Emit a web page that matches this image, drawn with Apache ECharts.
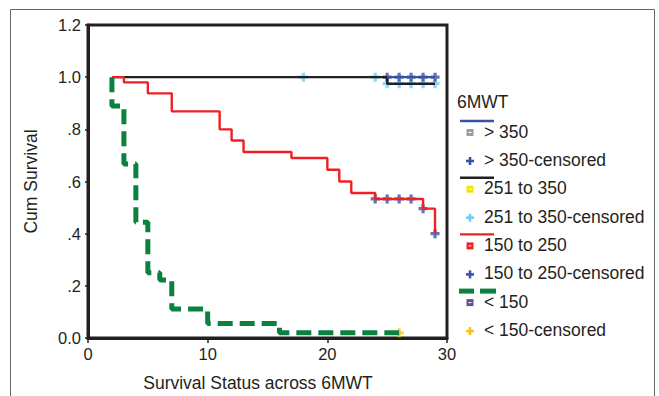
<!DOCTYPE html>
<html>
<head>
<meta charset="utf-8">
<title>Survival Status across 6MWT</title>
<script src="https://cdn.jsdelivr.net/npm/echarts@6/dist/echarts.min.js"></script>
<style>
  html, body { margin: 0; padding: 0; background: #fff; }
  #chart { width: 659px; height: 396px; }
</style>
</head>
<body>
<div id="chart"></div>
<script>
// axis ticks
const xTicks = [0, 10, 20, 30];
const yTicks = [0, 0.2, 0.4, 0.6, 0.8, 1.0, 1.2];

// > 350
const over350Time = [25, 29];
const over350Surv = [1.0, 1.0];
const over350CensTime = [25, 26, 27, 28, 29];
const over350CensSurv = [1.0, 1.0, 1.0, 1.0, 1.0];

// 251 to 350
const mid350Time = [2, 25, 29];
const mid350Surv = [1.0, 0.975, 0.975];
const mid350CensTime = [18, 24, 25, 26, 27, 28, 29];
const mid350CensSurv = [1.0, 1.0, 0.975, 0.975, 0.975, 0.975, 0.975];

// 150 to 250
const mid250Time = [2, 3, 5, 7, 11, 12, 13, 17, 20, 21, 22, 24, 28, 29];
const mid250Surv = [1.0, 0.98, 0.938, 0.869, 0.80, 0.757, 0.713, 0.69, 0.645, 0.60, 0.556, 0.533, 0.496, 0.40];
const mid250CensTime = [24, 25, 26, 27, 28, 29];
const mid250CensSurv = [0.533, 0.533, 0.533, 0.533, 0.496, 0.40];

// < 150
const under150Time = [2, 2, 3, 4, 5, 6, 7, 10, 16, 26];
const under150Surv = [1.0, 0.889, 0.667, 0.444, 0.25, 0.222, 0.111, 0.056, 0.02, 0.02];
const under150CensTime = [26];
const under150CensSurv = [0.02];

// legend texts
const legendTitle = "6MWT";
const legendLabels = ["> 350", "> 350-censored", "251 to 350", "251 to 350-censored",
  "150 to 250", "150 to 250-censored", "< 150", "< 150-censored"];

const FONT = "'Liberation Sans', Arial, sans-serif";
const INK = "#231f20";
const PLUS = "path://M3.2,0H6.8V3.2H10V6.8H6.8V10H3.2V6.8H0V3.2H3.2Z";

const pairs = (xs, ys) => xs.map((x, i) => [x, ys[i]]);

const stepLine = (name, xs, ys, color, width, type) => ({
  name: name,
  type: "line",
  step: "end",
  symbol: "none",
  data: pairs(xs, ys),
  lineStyle: { color: color, width: width, type: type || "solid", cap: "butt" },
  silent: true
});

const censored = (name, xs, ys, color) => ({
  name: name,
  type: "scatter",
  symbol: PLUS,
  symbolSize: 9,
  data: pairs(xs, ys),
  itemStyle: { color: color },
  silent: true
});

// legend drawn by hand: line swatch, event box, censored plus
const legendGraphic = () => {
  const items = [];
  const groups = [
    { line: "#3953a4", box: "#9d9d9d", plus: "#3953a4" },
    { line: INK, box: "#f0e600", plus: "#6dcff6" },
    { line: "#ed2024", box: "#ed2024", plus: "#3953a4" },
    { line: "#0b8140", box: "#6a4c9c", plus: "#f7c21c", dashed: true }
  ];
  items.push({
    type: "text", left: 457, top: 93,
    style: { text: legendTitle, font: "17.5px " + FONT, fill: INK }
  });
  groups.forEach((g, i) => {
    const y0 = 121 + 56.7 * i;
    if (g.dashed) {
      items.push({ type: "rect", shape: { x: 459, y: y0 - 2.5, width: 15, height: 5 }, style: { fill: g.line } });
      items.push({ type: "rect", shape: { x: 480, y: y0 - 2.5, width: 16, height: 5 }, style: { fill: g.line } });
    } else {
      items.push({ type: "rect", shape: { x: 460, y: y0 - 1.2, width: 34, height: 2.4 }, style: { fill: g.line } });
    }
    const yb = y0 + 11.5;
    items.push({ type: "rect", shape: { x: 466.5, y: yb - 3.5, width: 7, height: 7 }, style: { fill: g.box } });
    items.push({ type: "rect", shape: { x: 468.5, y: yb - 0.5, width: 3, height: 1 }, style: { fill: "#fff" } });
    items.push({
      type: "text", left: 484, top: yb - 10,
      style: { text: legendLabels[i * 2], font: "17.5px " + FONT, fill: INK }
    });
    const yp = y0 + 40;
    items.push({ type: "rect", shape: { x: 466, y: yp - 1.3, width: 8, height: 2.6 }, style: { fill: g.plus } });
    items.push({ type: "rect", shape: { x: 468.7, y: yp - 4, width: 2.6, height: 8 }, style: { fill: g.plus } });
    items.push({
      type: "text", left: 484, top: yp - 10,
      style: { text: legendLabels[i * 2 + 1], font: "17.5px " + FONT, fill: INK }
    });
  });
  // outer frame of the figure
  items.push({
    type: "rect", shape: { x: 10.5, y: 9.5, width: 644, height: 400 },
    style: { fill: "none", stroke: "#666", lineWidth: 1 }, z: -1
  });
  return items;
};

const chart = echarts.init(document.getElementById("chart"), null, { renderer: "svg" });

const option = {
  animation: false,
  backgroundColor: "#fff",
  grid: {
    left: 88, right: 212, top: 25, bottom: 58,
    outerBoundsMode: "none",
    containLabel: false,
    show: true, borderColor: INK, borderWidth: 3, backgroundColor: "transparent"
  },
  xAxis: {
    type: "value",
    min: xTicks[0],
    max: xTicks[xTicks.length - 1],
    interval: xTicks[1] - xTicks[0],
    name: "Survival Status across 6MWT",
    nameLocation: "middle",
    nameGap: 36,
    nameTextStyle: { fontFamily: FONT, fontSize: 17.5, color: INK, padding: [0, 19, 0, 0] },
    axisLine: { onZero: false, lineStyle: { color: INK, width: 3 } },
    axisTick: { length: 5, lineStyle: { color: INK, width: 1.5 } },
    axisLabel: { fontFamily: FONT, fontSize: 16.5, color: INK, margin: 7 },
    splitLine: { show: false }
  },
  yAxis: {
    type: "value",
    min: yTicks[0],
    max: yTicks[yTicks.length - 1],
    interval: 0.2,
    name: "Cum Survival",
    nameLocation: "middle",
    nameGap: 48,
    nameTextStyle: { fontFamily: FONT, fontSize: 17.5, color: INK },
    axisLine: { onZero: false, lineStyle: { color: INK, width: 3 } },
    axisTick: { length: 3, lineStyle: { color: INK, width: 1.5 } },
    axisLabel: {
      fontFamily: FONT, fontSize: 16.5, color: INK, margin: 7,
      formatter: (v) => {
        const s = v.toFixed(1);
        return v > 0 && v < 1 ? s.replace(/^0/, "") : s;
      }
    },
    splitLine: { show: false }
  },
  series: [
    stepLine("251 to 350", mid350Time, mid350Surv, INK, 2.4),
    stepLine("> 350", over350Time, over350Surv, "#3953a4", 2.4),
    stepLine("150 to 250", mid250Time, mid250Surv, "#ed2024", 2.4),
    stepLine("< 150", under150Time, under150Surv, "#0b8140", 5, [15, 7]),
    censored("251 to 350-censored", mid350CensTime, mid350CensSurv, "#6dcff6"),
    censored("> 350-censored", over350CensTime, over350CensSurv, "#3953a4"),
    censored("150 to 250-censored", mid250CensTime, mid250CensSurv, "#3953a4"),
    censored("< 150-censored", under150CensTime, under150CensSurv, "#f7c21c")
  ],
  graphic: legendGraphic()
};

chart.setOption(option);
</script>
</body>
</html>
